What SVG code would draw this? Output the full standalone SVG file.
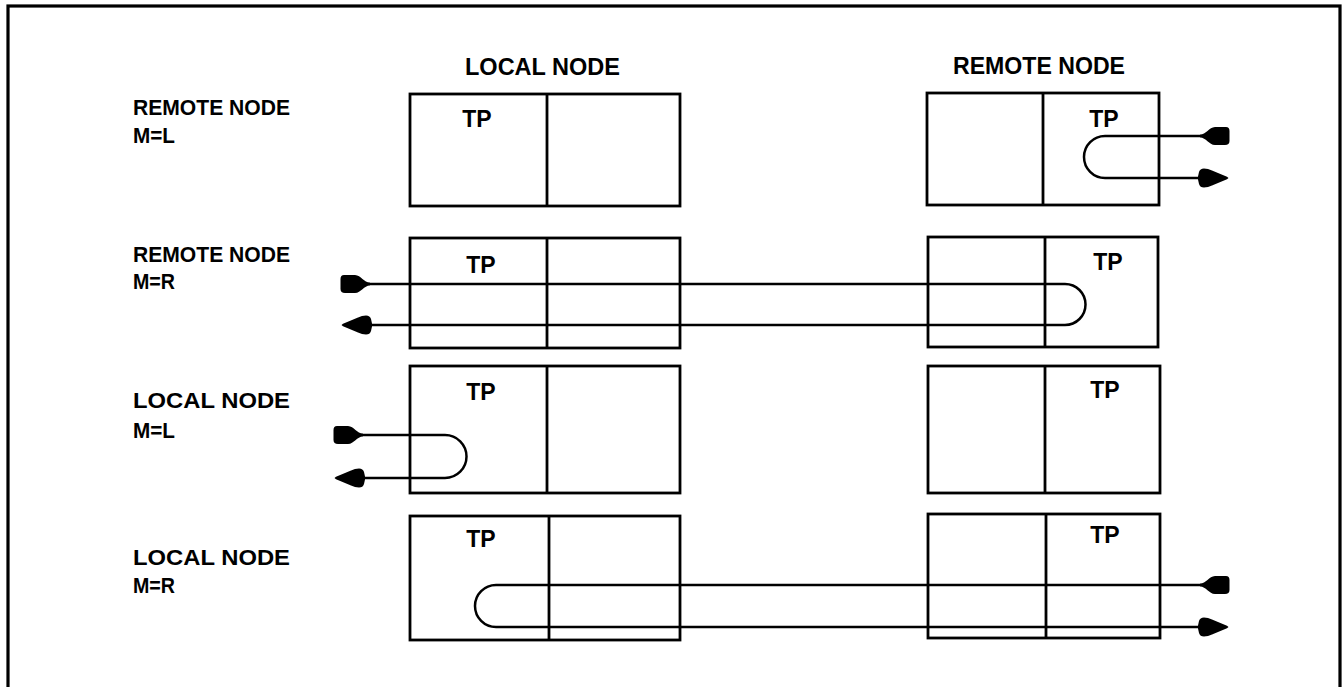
<svg xmlns="http://www.w3.org/2000/svg" xmlns:xlink="http://www.w3.org/1999/xlink" width="1344" height="687" viewBox="0 0 1344 687">
<style>
text{font-family:"Liberation Sans",Arial,sans-serif;fill:#000;font-weight:bold}
.hdr{font-size:24px}
.lbl{font-size:22px}
.tp{font-size:23px;text-anchor:middle}
.box{fill:none;stroke:#000;stroke-width:2.8}
.ln{fill:none;stroke:#000;stroke-width:2.5}
.blob{fill:#000;stroke:none}
</style>
<defs>
<path id="tail" class="blob" d="M0,-1.4 C6,-1.6 9,-8.5 15,-9 L26,-9 Q29.5,-9 29.5,-5 L29.5,5 Q29.5,9 25,9 L15,9 C9,8.5 6,1.6 0,1.4 Z"/>
<path id="head" class="blob" d="M0,-1.4 L1,-6 Q2,-9.5 6,-9.5 Q10,-9.5 14,-7.5 L29,-1.2 L30.5,0 L29,1.2 L14,7.5 Q10,9.5 6,9.5 Q2,9.5 1,6 L0,1.4 Z"/>
</defs>
<rect x="8" y="6" width="1332" height="700" fill="none" stroke="#000" stroke-width="3.2"/>
<g id="headers">
<text class="hdr" x="465" y="75" textLength="155" lengthAdjust="spacingAndGlyphs">LOCAL NODE</text>
<text class="hdr" x="953" y="74" textLength="172" lengthAdjust="spacingAndGlyphs">REMOTE NODE</text>
</g>
<g id="labels">
<text class="lbl" x="133" y="115" textLength="157" lengthAdjust="spacingAndGlyphs">REMOTE NODE</text>
<text class="lbl" x="133" y="143" textLength="42" lengthAdjust="spacingAndGlyphs">M=L</text>
<text class="lbl" x="133" y="262" textLength="157" lengthAdjust="spacingAndGlyphs">REMOTE NODE</text>
<text class="lbl" x="133" y="289" textLength="42" lengthAdjust="spacingAndGlyphs">M=R</text>
<text class="lbl" x="133" y="408" textLength="157" lengthAdjust="spacingAndGlyphs">LOCAL NODE</text>
<text class="lbl" x="133" y="438" textLength="42" lengthAdjust="spacingAndGlyphs">M=L</text>
<text class="lbl" x="133" y="565" textLength="157" lengthAdjust="spacingAndGlyphs">LOCAL NODE</text>
<text class="lbl" x="133" y="593" textLength="42" lengthAdjust="spacingAndGlyphs">M=R</text>
</g>
<g id="local1"><rect class="box" x="410" y="94" width="270" height="112"/><line class="box" x1="547" y1="94" x2="547" y2="206"/><text class="tp" x="477" y="127">TP</text></g>
<g id="remote1"><rect class="box" x="927" y="93" width="232" height="112"/><line class="box" x1="1043" y1="93" x2="1043" y2="205"/><text class="tp" x="1104" y="127">TP</text></g>
<g id="local2"><rect class="box" x="410" y="238" width="270" height="110"/><line class="box" x1="547" y1="238" x2="547" y2="348"/><text class="tp" x="481" y="273">TP</text></g>
<g id="remote2"><rect class="box" x="928" y="237" width="230" height="110"/><line class="box" x1="1045" y1="237" x2="1045" y2="347"/><text class="tp" x="1108" y="270">TP</text></g>
<g id="local3"><rect class="box" x="410" y="366" width="270" height="127"/><line class="box" x1="547" y1="366" x2="547" y2="493"/><text class="tp" x="481" y="400">TP</text></g>
<g id="remote3"><rect class="box" x="928" y="366" width="232" height="127"/><line class="box" x1="1045" y1="366" x2="1045" y2="493"/><text class="tp" x="1105" y="398">TP</text></g>
<g id="local4"><rect class="box" x="410" y="516" width="270" height="124"/><line class="box" x1="549" y1="516" x2="549" y2="640"/><text class="tp" x="481" y="547">TP</text></g>
<g id="remote4"><rect class="box" x="928" y="514" width="232" height="124"/><line class="box" x1="1046" y1="514" x2="1046" y2="638"/><text class="tp" x="1105" y="543">TP</text></g>
<g id="connectors">
<path class="ln" d="M1200,136 H1105 A21,21 0 0 0 1105,178 H1198"/>
<use xlink:href="#tail" transform="translate(1200,136)"/>
<use xlink:href="#head" transform="translate(1198,178)"/>
<path class="ln" d="M370,284 H1065 A20.5,20.5 0 0 1 1065,325 H372"/>
<use xlink:href="#tail" transform="translate(370,284) scale(-1,1)"/>
<use xlink:href="#head" transform="translate(372,325) scale(-1,1)"/>
<path class="ln" d="M363,435 H445 A21.5,21.5 0 0 1 445,478 H365"/>
<use xlink:href="#tail" transform="translate(363,435) scale(-1,1)"/>
<use xlink:href="#head" transform="translate(365,478) scale(-1,1)"/>
<path class="ln" d="M1200,585 H496 A21,21 0 0 0 496,627 H1198"/>
<use xlink:href="#tail" transform="translate(1200,585)"/>
<use xlink:href="#head" transform="translate(1198,627)"/>
</g>
</svg>
